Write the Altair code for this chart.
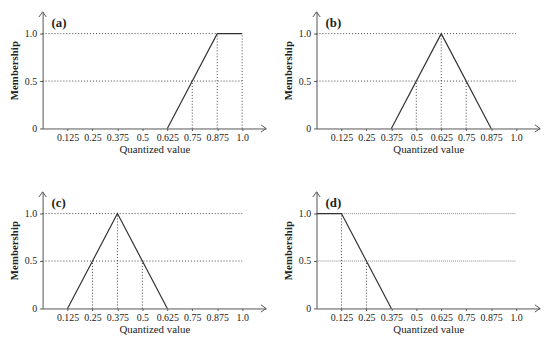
import altair as alt
import pandas as pd

# ---- data ----
panel_labels = ["(a)", "(b)", "(c)", "(d)"]
line_x = [[0.625, 0.875, 1.0], [0.375, 0.625, 0.875], [0.125, 0.375, 0.625], [0.0, 0.125, 0.375]]
line_y = [[0, 1, 1], [0, 1, 0], [0, 1, 0], [1, 1, 0]]
drop_x = [[0.75, 0.875, 1.0], [0.5, 0.625, 0.75], [0.25, 0.375, 0.5], [0.125, 0.25]]
drop_y = [[0.5, 1, 1], [0.5, 1, 0.5], [0.5, 1, 0.5], [1, 0.5]]
guide_levels = [0.5, 1.0]
x_ticks = [0.125, 0.25, 0.375, 0.5, 0.625, 0.75, 0.875, 1.0]
y_ticks = [0, 0.5, 1.0]

X_MAX = 1.12
Y_MAX = 1.23
FONT = "Liberation Serif"
AX = "#555555"
INK = "#333333"

x_axis = alt.Axis(values=x_ticks, format=".3~f",
                  labelExpr="datum.value == 1 ? '1.0' : datum.label",
                  title="Quantized value", grid=False, tickSize=2, labelPadding=2,
                  titlePadding=1, domainColor=AX, tickColor=AX, labelColor="#222",
                  titleColor="#222", labelFont=FONT, titleFont=FONT, labelFontSize=10,
                  titleFontSize=11, titleFontWeight="normal", labelFlush=False)
y_axis = alt.Axis(values=y_ticks, format=".1~f",
                  labelExpr="datum.value == 1 ? '1.0' : datum.label",
                  title="Membership", grid=False, tickSize=3, labelPadding=3,
                  titlePadding=5, domainColor=AX, tickColor=AX, labelColor="#222",
                  titleColor="#222", labelFont=FONT, titleFont=FONT, labelFontSize=10,
                  titleFontSize=11, titleFontWeight="bold", labelFlush=False)
xs = alt.Scale(domain=[0, X_MAX], nice=False, zero=False)
ys = alt.Scale(domain=[0, Y_MAX], nice=False, zero=False)


def X(f):
    return alt.X(f, type="quantitative", scale=xs, axis=x_axis)


def Y(f):
    return alt.Y(f, type="quantitative", scale=ys, axis=y_axis)


def panel(i):
    light = i == 3
    guides = pd.DataFrame({"x": [0.0] * len(guide_levels), "x2": [1.0] * len(guide_levels),
                           "y": guide_levels})
    drops = pd.DataFrame({"x": drop_x[i], "y": [0.0] * len(drop_x[i]), "y2": drop_y[i]})
    mem = pd.DataFrame({"x": line_x[i], "y": line_y[i]})
    lab = pd.DataFrame({"x": [0.045], "y": [1.11], "t": [panel_labels[i]]})
    arrows = pd.DataFrame({"x": [X_MAX, 0.0], "y": [0.0, Y_MAX],
                           "s": ["M-1,-0.7L0,0L-1,0.7", "M-0.7,1L0,0L0.7,1"]})

    g = alt.Chart(guides).mark_rule(
        color="#888888" if light else "#444444", strokeWidth=1,
        strokeDash=[1, 1] if light else [1, 2]
    ).encode(x=X("x"), x2="x2", y=Y("y"))
    d = alt.Chart(drops).mark_rule(color="#444444", strokeWidth=1, strokeDash=[1, 2]).encode(
        x=X("x"), y=Y("y"), y2="y2")
    m = alt.Chart(mem).mark_line(color=INK, strokeWidth=1.2).encode(x=X("x"), y=Y("y"))
    t = alt.Chart(lab).mark_text(align="left", baseline="middle", font=FONT, fontSize=13,
                                 fontWeight="bold", color="#222").encode(
        x=X("x"), y=Y("y"), text="t:N")
    a = alt.Chart(arrows).mark_point(filled=False, color=AX, strokeWidth=1, size=110,
                                     opacity=1).encode(
        x=X("x"), y=Y("y"), shape=alt.Shape("s:N", scale=None))
    return alt.layer(g, d, m, a, t).properties(width=226, height=118)


chart = alt.concat(*[panel(i) for i in range(4)], columns=2,
                   spacing=alt.RowColnumber(row=64, column=51)).properties(
    bounds="flush", padding={"left": 0, "top": 0, "right": 0, "bottom": 0}
).configure_view(stroke=None)

chart.save("out.html", embed_options={"renderer": "svg", "actions": False})
